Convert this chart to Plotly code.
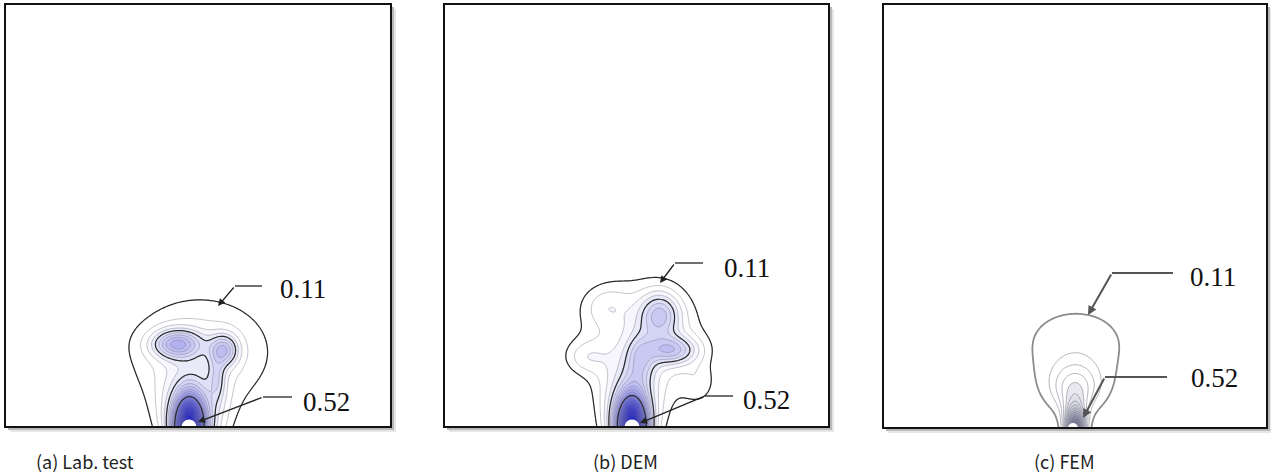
import numpy as np
import plotly.graph_objects as go

W, H = 1271, 474

captions = ["(a) Lab. test", "(b) DEM", "(c) FEM"]
labels = ["0.11", "0.52"]

# Peak structures (local pixel units: x from panel left, y up from panel bottom)
# source, column, broad cloud, left lobe, right lobe, neck
a_cx = [184, 187, 195, 172, 219, 212]
a_cy = [0, 0, 75, 83, 77, 48]
a_amp = [0.75, 0.24, 0.16, 0.25, 0.20, 0.10]
a_sx = [10, 22, 78, 17, 10, 6]
a_sy = [20, 35, 60, 10, 11, 16]

# source, column, connector, upper lobe, lower lobe, broad cloud, upper-left bulge, left bulge, right bulge
b_cx = [188, 186, 196, 216, 228, 200, 161, 141, 256]
b_cy = [0, 0, 67, 112, 77, 85, 122, 70, 42]
b_amp = [0.75, 0.25, 0.12, 0.20, 0.20, 0.16, 0.06, 0.07, 0.05]
b_sx = [10, 19, 10, 14, 18, 65, 18, 16, 12]
b_sy = [20, 38, 18, 16, 10, 66, 15, 12, 15]

# source core, near-source plume, upper plume, outer envelope
c_cx = [192, 192, 192, 193]
c_cy = [0, 0, 38, 85]
c_amp = [0.40, 0.30, 0.19, 0.14]
c_sx = [6, 9, 22, 60]
c_sy = [12, 20, 20, 42]

fill_levels_ab = dict(start=0.11, end=1.3, size=0.035)
fill_levels_c = dict(start=0.17, end=1.4, size=0.04)
black_levels_a = [0.11, 0.25, 0.52]
black_levels_b = [0.11, 0.25, 0.52]

lefts = [5, 444, 883]
rights = [391, 829, 1267]
top = 4
bottoms = [427, 427, 428]

# annotation geometry in page pixels: (text center x, text y, right end of elbow, elbow x, elbow y, tip x, tip y)
arrows = [
    [(303, 289, 262, 235, 286, 218, 306), (326, 402, 292, 263, 397, 198, 422)],
    [(747, 268, 703, 675, 263, 660, 283), (766, 400, 733, 705, 396, 640, 423)],
    [(1213, 277, 1173, 1112, 273, 1088, 315), (1214, 378, 1167, 1105, 377, 1083, 418)],
]
holes = [(189, 7.5), (632, 7.5), (1073, 5)]

blue_scale = [
    [0.0, "#ffffff"], [0.08, "#ffffff"], [0.11, "#f2f2fb"], [0.2, "#dadaf6"],
    [0.3, "#bdbdf1"], [0.4, "#a0a0ed"], [0.5, "#7a7ae6"], [0.6, "#5a5ade"],
    [0.8, "#3434d2"], [1.0, "#2020c8"],
]
grey_scale = [
    [0.0, "#ffffff"], [0.14, "#ffffff"], [0.17, "#e9e9ef"], [0.3, "#d2d2dc"],
    [0.45, "#b0b0c4"], [0.6, "#8a8aa6"], [0.8, "#626288"], [1.0, "#4a4a78"],
]

blobs = [
    (a_cx, a_cy, a_amp, a_sx, a_sy),
    (b_cx, b_cy, b_amp, b_sx, b_sy),
    (c_cx, c_cy, c_amp, c_sx, c_sy),
]

fig = go.Figure()
layout = dict(width=W, height=H, margin=dict(l=0, r=0, t=0, b=0), autosize=False,
              paper_bgcolor="white", plot_bgcolor="rgba(0,0,0,0)", showlegend=False)
shapes = []
annotations = []

for i in range(3):
    L, R, B = lefts[i], rights[i], bottoms[i]
    pw, ph = R - L, B - top
    xa = "x" if i == 0 else f"x{i+1}"
    ya = "y" if i == 0 else f"y{i+1}"
    layout["xaxis" if i == 0 else f"xaxis{i+1}"] = dict(
        domain=[L / W, R / W], range=[0, pw], visible=False, fixedrange=True, anchor=ya)
    layout["yaxis" if i == 0 else f"yaxis{i+1}"] = dict(
        domain=[1 - B / H, 1 - top / H], range=[0, ph], visible=False, fixedrange=True,
        anchor=xa)

    xs = np.arange(0, pw + 1, 1.5)
    ys = np.arange(0, 200, 1.5)
    X, Y = np.meshgrid(xs, ys)
    cx, cy, amp, sx, sy = blobs[i]
    Z = np.zeros_like(X)
    for k in range(len(cx)):
        Z += amp[k] * np.exp(-0.5 * ((X - cx[k]) / sx[k]) ** 2 - 0.5 * ((Y - cy[k]) / sy[k]) ** 2)

    if i < 2:
        fig.add_trace(go.Contour(
            x=xs, y=ys, z=Z, xaxis=xa, yaxis=ya, autocontour=False,
            contours=dict(coloring="fill", **fill_levels_ab),
            line=dict(color="rgba(120,120,140,0.55)", width=0.8, smoothing=1),
            colorscale=blue_scale, zmin=0, zmax=1.0, showscale=False, hoverinfo="skip"))
        for lv in (black_levels_a if i == 0 else black_levels_b):
            fig.add_trace(go.Contour(
                x=xs, y=ys, z=Z, xaxis=xa, yaxis=ya, autocontour=False,
                contours=dict(coloring="none", start=lv, end=lv, size=1),
                line=dict(color="#2a2a2a", width=1.2, smoothing=1),
                showscale=False, hoverinfo="skip"))
    else:
        fig.add_trace(go.Contour(
            x=xs, y=ys, z=Z, xaxis=xa, yaxis=ya, autocontour=False,
            contours=dict(coloring="fill", **fill_levels_c),
            line=dict(color="rgba(110,110,130,0.5)", width=1.0, smoothing=1),
            colorscale=grey_scale, zmin=0, zmax=1.0, showscale=False, hoverinfo="skip"))
        fig.add_trace(go.Contour(
            x=xs, y=ys, z=Z, xaxis=xa, yaxis=ya, autocontour=False,
            contours=dict(coloring="none", start=0.11, end=0.11, size=1),
            line=dict(color="#8c8c8c", width=1.8, smoothing=1),
            showscale=False, hoverinfo="skip"))

    # shadow + frame
    for off, col in ((5, "#e6e6e6"), (3, "#b8b8b8")):
        shapes.append(dict(type="rect", xref="paper", yref="paper", layer="below",
                           x0=(L + off) / W, x1=(R + off) / W,
                           y0=1 - (B + off) / H, y1=1 - (top + off) / H,
                           line=dict(width=0), fillcolor=col))
    shapes.append(dict(type="rect", xref="paper", yref="paper", layer="below",
                       x0=L / W, x1=R / W, y0=1 - B / H, y1=1 - top / H,
                       line=dict(width=0), fillcolor="white"))
    hx, hr = holes[i]
    shapes.append(dict(type="circle", xref=xa, yref=ya, layer="above",
                       x0=hx - L - hr, x1=hx - L + hr, y0=-hr, y1=hr,
                       line=dict(width=0), fillcolor="white"))
    shapes.append(dict(type="rect", xref="paper", yref="paper", layer="above",
                       x0=L / W, x1=R / W, y0=1 - B / H, y1=1 - top / H,
                       line=dict(width=2, color="#111111"), fillcolor="rgba(0,0,0,0)"))

    acol = "#222222" if i < 2 else "#555555"
    awid = 1.3 if i < 2 else 2.0
    for j, (tx, ty, ex, elx, ely, tipx, tipy) in enumerate(arrows[i]):
        annotations.append(dict(xref=xa, yref=ya, x=tx - L, y=B - ty, text=labels[j],
                                xanchor="center", yanchor="middle",
                                showarrow=False, font=dict(family="Liberation Serif", size=27, color="#111111")))
        shapes.append(dict(type="line", xref=xa, yref=ya, layer="above",
                           x0=ex - L, x1=elx - L, y0=B - ely, y1=B - ely,
                           line=dict(color=acol, width=awid)))
        annotations.append(dict(xref=xa, yref=ya, axref=xa, ayref=ya,
                                x=tipx - L, y=B - tipy, ax=elx - L, ay=B - ely, text="",
                                showarrow=True, arrowhead=2, arrowsize=1.1 if i < 2 else 0.9,
                                arrowwidth=awid, arrowcolor=acol, standoff=0))

cap_x = [85, 625, 1064]
for i in range(3):
    annotations.append(dict(xref="paper", yref="paper", x=cap_x[i] / W, y=1 - 461 / H,
                            xanchor="center", yanchor="middle",
                            text=captions[i], showarrow=False,
                            font=dict(family="Noto Sans CJK KR, Noto Sans, sans-serif", size=18, color="#222222")))

layout["shapes"] = shapes
layout["annotations"] = annotations
fig.update_layout(**layout)
fig.write_html("out.html", config={"displayModeBar": False},
               post_script="document.body.style.margin='0';document.body.style.padding='0';")
